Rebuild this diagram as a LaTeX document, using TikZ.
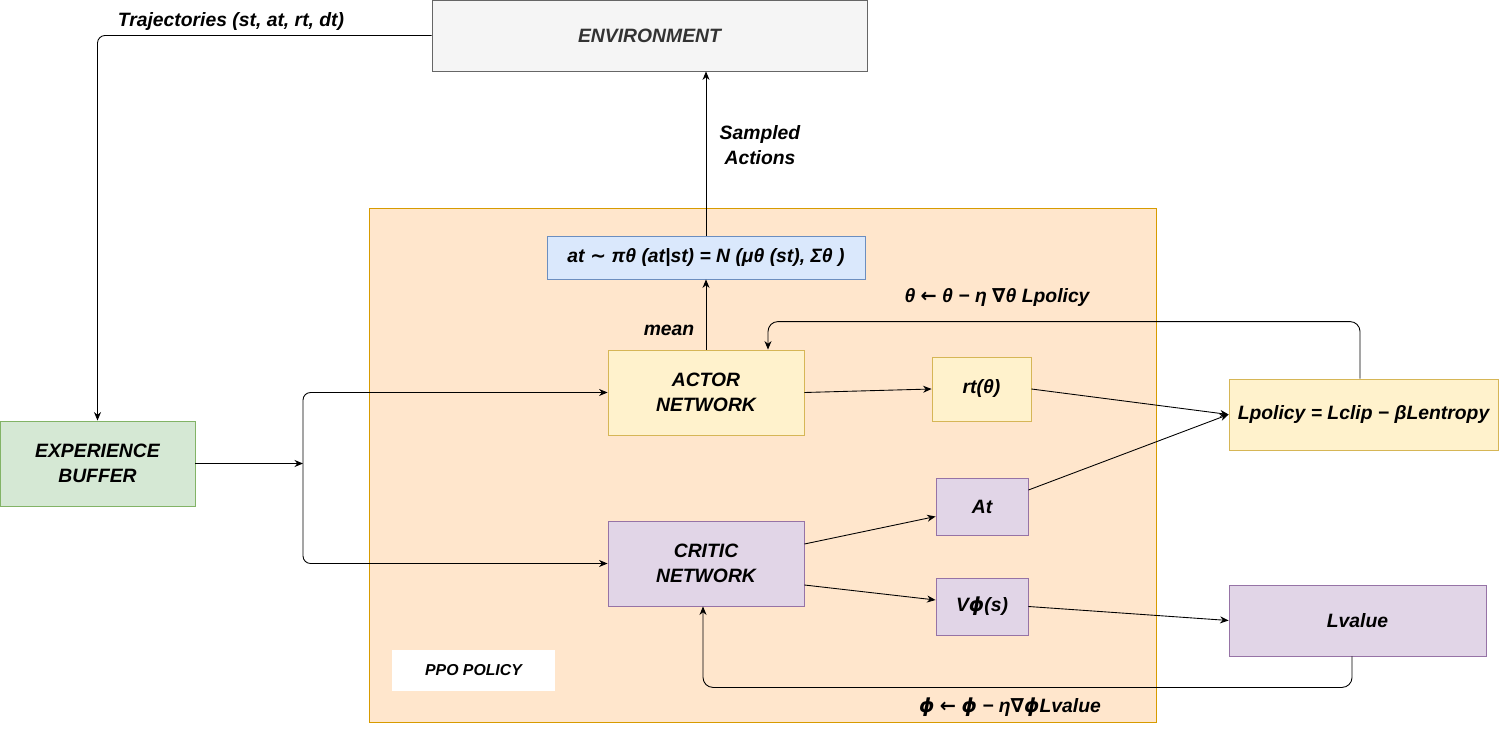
\documentclass[tikz,border=0pt]{standalone}
\usepackage{fontspec}
\setmainfont{Liberation Sans}
\newfontfamily\symfont{DejaVu Sans}
\newcommand\msym[1]{{\symfont #1}}
\usetikzlibrary{arrows.meta}
\definecolor{envfill}{HTML}{F5F5F5}\definecolor{envline}{HTML}{666666}\definecolor{envtext}{HTML}{333333}
\definecolor{grnfill}{HTML}{D5E8D4}\definecolor{grnline}{HTML}{82B366}
\definecolor{orgfill}{HTML}{FFE6CC}\definecolor{orgline}{HTML}{D79B00}
\definecolor{blufill}{HTML}{DAE8FC}\definecolor{bluline}{HTML}{6C8EBF}
\definecolor{ylwfill}{HTML}{FFF2CC}\definecolor{ylwline}{HTML}{D6B656}
\definecolor{purfill}{HTML}{E1D5E7}\definecolor{purline}{HTML}{9673A6}
\begin{document}
\begin{tikzpicture}[x=.02cm,y=-.02cm,line width=.5pt,>={Stealth[length=1.7mm,width=1.4mm]},
 font=\fontsize{11}{14}\selectfont\bfseries\itshape,
 sz/.style 2 args={minimum width=#1*.02cm,minimum height=#2*.02cm,inner sep=0pt,align=center},
 env/.style={draw=envline,fill=envfill,text=envtext},
 grn/.style={draw=grnline,fill=grnfill},
 blu/.style={draw=bluline,fill=blufill},
 ylw/.style={draw=ylwline,fill=ylwfill},
 pur/.style={draw=purline,fill=purfill},
 lbl/.style={inner sep=1pt,align=center}]
 \useasboundingbox (0,0) rectangle (1500,746);
 \draw[orgline,fill=orgfill] (369,208) rectangle (1156,722);
 \node[sz={163}{41},fill=white,font=\fontsize{9}{11}\selectfont\bfseries\itshape] (ppolbl) at (473.5,670.5) {PPO POLICY};
 \node[sz={435}{71},env] (environment) at (649.5,35.5) {ENVIRONMENT};
 \node[sz={195}{85},grn] (buffer) at (97.5,463.5) {EXPERIENCE\\BUFFER};
 \node[sz={318}{43},blu] (action) at (706,257.5) {at \msym{∼} πθ (at|st) = N (μθ (st), Σθ )};
 \node[sz={196}{85},ylw] (actor) at (706,392.5) {ACTOR\\NETWORK};
 \node[sz={196}{85},pur] (critic) at (706,563.5) {CRITIC\\NETWORK};
 \node[sz={99}{64},ylw] (ratio) at (981.5,389) {rt(θ)};
 \node[sz={92}{57},pur] (adv) at (982,506.5) {At};
 \node[sz={92}{57},pur] (value) at (982,606.5) {V\msym{ϕ}(s)};
 \node[sz={269}{71},ylw] (lpolicy) at (1363.5,414.5) {Lpolicy = Lclip − βLentropy};
 \node[sz={257}{71},pur] (lvalue) at (1357.5,620.5) {Lvalue};
 \node[lbl] (traj) at (231,22) {Trajectories (st, at, rt, dt)};
 \node[lbl] (sampled) at (760,145) {Sampled\\Actions};
 \node[lbl] (mean) at (669,330) {mean};
 \node[lbl] (thetaupd) at (997,298) {θ \msym{←} θ − η \msym{∇}θ Lpolicy};
 \node[lbl] (phiupd) at (1010,707) {\msym{ϕ} \msym{←} \msym{ϕ} − η\msym{∇ϕ}Lvalue};
 \coordinate (split) at (303,463.5);
 \draw[->,rounded corners=.15cm] (environment.west) -| (buffer.north);
 \draw[->] (buffer.east) -- (split);
 \draw[->,rounded corners=.15cm] (split) |- (actor.west);
 \draw[->,rounded corners=.15cm] (split) |- (critic.west);
 \draw[->] (actor.north) -- (action.south);
 \draw[->] (action.north) -- (action.north |- environment.south);
 \draw[->] (actor.east) -- (ratio.west);
 \draw[->] ([yshift=.39cm]critic.east) -- ([yshift=-.2cm]adv.west);
 \draw[->] ([yshift=-.43cm]critic.east) -- ([yshift=.13cm]value.west);
 \draw[->] (ratio.east) -- (lpolicy.west);
 \draw[->] ([yshift=.33cm]adv.east) -- (lpolicy.west);
 \draw[->] (value.east) -- (lvalue.west);
 \draw[->,rounded corners=.2cm] ([xshift=-.07cm]lpolicy.north) |- ([xshift=1.24cm,yshift=.56cm]actor.north) -- ([xshift=1.24cm]actor.north);
 \draw[->,rounded corners=.2cm] ([xshift=-.11cm]lvalue.south) -- ++(0,31) -| ([xshift=-.06cm]critic.south);
\end{tikzpicture}
\end{document}
